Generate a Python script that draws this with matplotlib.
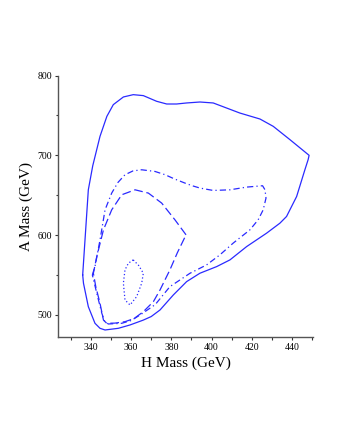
import matplotlib.pyplot as plt
from matplotlib.ticker import MultipleLocator

plt.rcParams['font.family'] = ['Liberation Serif', 'DejaVu Serif']

# contour points (H mass, A mass) in GeV
outer_h = [336.0, 338.8, 341.0, 344.6, 348.0, 351.2, 356.2, 361.1, 366.1, 372.7,
           377.7, 382.6, 387.6, 394.2, 400.8, 407.4, 414.0, 424.0, 430.6, 438.9,
           448.4, 447.9, 446.3, 442.2, 437.2, 433.9, 427.3, 417.4, 409.1, 402.5,
           394.2, 387.6, 381.0, 374.4, 370.0, 366.0, 359.5, 353.7, 347.1, 344.6,
           342.1, 338.8, 336.4, 336.0]
outer_a = [550.2, 656.8, 687.0, 723.8, 748.8, 763.5, 773.1, 776.0, 774.8, 767.7,
           764.3, 764.3, 765.6, 766.8, 765.6, 759.3, 753.0, 745.5, 736.3, 719.6,
           700.0, 694.5, 681.9, 648.4, 623.4, 615.0, 602.5, 585.7, 569.0, 560.6,
           552.3, 541.8, 525.1, 506.3, 498.0, 493.5, 487.5, 483.3, 481.2, 483.3,
           489.6, 510.4, 539.7, 550.2]

dashdot_h = [340.8, 342.1, 344.6, 347.1, 350.4, 353.5, 357.0, 361.0, 365.3, 371.9,
             376.9, 381.5, 386.8, 390.5, 394.2, 400.8, 409.1, 417.4, 425.3, 426.5,
             427.0, 425.6, 423.1, 419.0, 410.7, 404.1, 397.5, 389.3, 379.3, 372.0,
             364.5, 360.0, 355.4, 348.7, 346.8, 345.5, 343.0, 340.8]
dashdot_a = [550.2, 560.6, 594.0, 631.7, 652.7, 666.0, 675.7, 680.5, 681.9, 679.8,
             675.7, 670.5, 665.2, 661.8, 659.0, 656.0, 656.8, 660.2, 661.9, 656.8,
             646.4, 631.7, 619.2, 606.6, 590.0, 575.3, 562.7, 552.3, 535.5, 513.0,
             500.0, 493.0, 489.6, 488.7, 492.5, 502.1, 527.2, 550.2]

dashed_h = [387.3, 381.8, 375.2, 368.6, 362.0, 355.4, 350.4, 346.3, 343.0, 341.3,
            342.5, 344.6, 346.3, 347.9, 352.0, 357.0, 361.5, 366.1, 371.1, 374.4,
            379.3, 383.0, 387.3]
dashed_a = [600.4, 619.2, 640.2, 652.7, 656.8, 650.6, 631.7, 606.6, 573.2, 552.3,
            535.5, 514.6, 493.7, 489.6, 489.8, 491.6, 495.5, 504.1, 516.7, 531.4,
            556.5, 578.0, 600.4]

dotted_h = [361.1, 363.8, 366.1, 365.3, 362.8, 359.5, 357.0, 356.2, 357.0, 358.7, 361.1]
dotted_a = [569.0, 562.0, 552.3, 539.8, 523.0, 512.5, 518.8, 539.8, 556.5, 564.9, 569.0]

fig = plt.figure(figsize=(3.4, 4.4), dpi=100)
ax = fig.add_axes([0.1715, 0.2348, 0.7495, 0.5936])

col = '#2a2aff'
ax.plot(outer_h, outer_a, color=col, lw=0.9, linestyle='-')
ax.plot(dashdot_h, dashdot_a, color=col, lw=0.9, linestyle=(0, (5, 2.5, 1, 2.5)))
ax.plot(dashed_h, dashed_a, color=col, lw=0.9, linestyle=(0, (7, 3)))
ax.plot(dotted_h, dotted_a, color=col, lw=0.9, linestyle=(0, (1, 1.8)))

ax.set_xlim(323.9, 450.4)
ax.set_ylim(472.8, 800)

ax.spines['top'].set_visible(False)
ax.spines['right'].set_visible(False)
for s in ('left', 'bottom'):
    ax.spines[s].set_color('#555555')
    ax.spines[s].set_linewidth(1.0)

ax.xaxis.set_major_locator(MultipleLocator(20))
ax.xaxis.set_minor_locator(MultipleLocator(10))
ax.yaxis.set_major_locator(MultipleLocator(100))
ax.yaxis.set_minor_locator(MultipleLocator(50))
ax.tick_params(which='both', direction='out', length=2.5, width=0.8,
               color='#333333', labelsize=7, pad=2)
ax.tick_params(axis='y', which='minor', length=1.5)

ax.set_xlabel('H Mass (GeV)', fontsize=11, labelpad=3)
ax.set_ylabel('A Mass (GeV)', fontsize=11, labelpad=3)

fig.savefig('out.png', dpi=100)
